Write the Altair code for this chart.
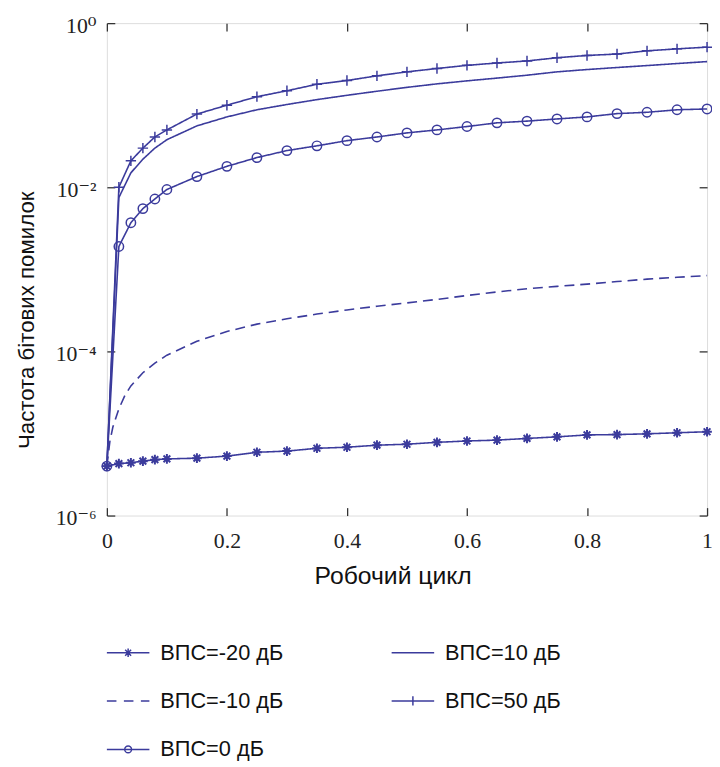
import altair as alt
import pandas as pd

# ---------------- data ----------------
duty = [0, 0.02, 0.04, 0.06, 0.08, 0.1, 0.15, 0.2, 0.25, 0.3, 0.35, 0.4, 0.45,
        0.5, 0.55, 0.6, 0.65, 0.7, 0.75, 0.8, 0.85, 0.9, 0.95, 1.0]
duty_dense = [0, 0.005, 0.01, 0.02, 0.03, 0.04, 0.06, 0.08, 0.1, 0.15, 0.2, 0.25,
              0.3, 0.35, 0.4, 0.45, 0.5, 0.55, 0.6, 0.65, 0.7, 0.75, 0.8, 0.85,
              0.9, 0.95, 1.0]

ber_m20 = [4.0e-6, 4.3e-6, 4.4e-6, 4.6e-6, 4.8e-6, 4.9e-6, 5.0e-6, 5.3e-6, 5.9e-6,
           6.1e-6, 6.6e-6, 6.8e-6, 7.2e-6, 7.4e-6, 7.8e-6, 8.1e-6, 8.3e-6, 8.7e-6,
           9.1e-6, 9.6e-6, 9.7e-6, 9.9e-6, 1.02e-5, 1.05e-5]
ber_m10 = [4.0e-6, 8.0e-6, 1.2e-5, 2.0e-5, 2.9e-5, 3.8e-5, 5.5e-5, 7.2e-5, 9.0e-5,
           1.33e-4, 1.75e-4, 2.15e-4, 2.5e-4, 2.85e-4, 3.2e-4, 3.55e-4, 3.9e-4,
           4.3e-4, 4.8e-4, 5.3e-4, 5.8e-4, 6.2e-4, 6.6e-4, 7.1e-4, 7.6e-4, 8.0e-4,
           8.4e-4]
ber_0 = [4.0e-6, 0.0019, 0.0037, 0.0055, 0.0072, 0.0094, 0.0135, 0.018, 0.023,
         0.028, 0.032, 0.037, 0.041, 0.046, 0.050, 0.055, 0.061, 0.064, 0.068,
         0.072, 0.079, 0.082, 0.088, 0.090]
ber_10 = [4.0e-6, 0.0075, 0.015, 0.022, 0.030, 0.038, 0.056, 0.072, 0.088, 0.102,
          0.117, 0.132, 0.148, 0.165, 0.182, 0.198, 0.214, 0.232, 0.255, 0.272,
          0.288, 0.304, 0.322, 0.34]
ber_50 = [4.0e-6, 0.010, 0.021, 0.030, 0.041, 0.050, 0.078, 0.10, 0.127, 0.15,
          0.18, 0.20, 0.228, 0.255, 0.28, 0.306, 0.327, 0.346, 0.379, 0.404,
          0.42, 0.46, 0.486, 0.51]

names = ["ВПС=-20 дБ", "ВПС=-10 дБ", "ВПС=0 дБ", "ВПС=10 дБ", "ВПС=50 дБ"]

x_ticks = [0, 0.2, 0.4, 0.6, 0.8, 1]
y_ticks = [1e-6, 1e-4, 1e-2, 1]
y_tick_labels = ["10⁻⁶", "10⁻⁴", "10⁻²", "10⁰"]

x_title = "Робочий цикл"
y_title = "Частота бітових помилок"

# ---------------- styling ----------------
COL = "#3b3b9c"
W, H = 607, 498
SANS = "Liberation Sans, Arial, sans-serif"
SERIF = "Liberation Serif, DejaVu Serif, serif"

series_data = [
    (names[0], duty, ber_m20),
    (names[1], duty_dense, ber_m10),
    (names[2], duty, ber_0),
    (names[3], duty, ber_10),
    (names[4], duty, ber_50),
]
rows = []
for name, xs, ys in series_data:
    for xv, yv in zip(xs, ys):
        rows.append({"series": name, "duty": xv, "ber": yv})
df = pd.DataFrame(rows)

xscale = alt.Scale(domain=[0, 1], nice=False, zero=False)
yscale = alt.Scale(type="log", domain=[1e-6, 1], nice=False)

label_expr = " : ".join(
    f"datum.value < {v * 3} ? '{lab}'" for v, lab in zip(y_ticks[:-1], y_tick_labels[:-1])
) + f" : '{y_tick_labels[-1]}'"

tick_axis_common = dict(labels=False, ticks=True, tickSize=8, tickColor="#333",
                        tickWidth=1.3, domain=False, grid=False, title=None)

dash_styles = {names[0]: [1, 0], names[1]: [10, 6], names[2]: [1, 0],
               names[3]: [1, 0], names[4]: [1, 0]}
dash_domain = names[::-1]

# main line layer with the labelled axes
lines = alt.Chart(df).mark_line(strokeWidth=1.6, color=COL).encode(
    x=alt.X("duty:Q", scale=xscale,
            axis=alt.Axis(orient="bottom", values=x_ticks, format="~g",
                          labelFont=SERIF, labelFontSize=22, labelColor="#222",
                          labelPadding=15, labelFlush=False, tickSize=0, ticks=False,
                          domain=False, grid=False, title=x_title, titleFont=SANS,
                          titleFontSize=25, titleFontWeight="normal",
                          titleColor="#111", titleX=289, titleY=69,
                          titleBaseline="alphabetic", titleAnchor="middle")),
    y=alt.Y("ber:Q", scale=yscale,
            axis=alt.Axis(orient="left", values=y_ticks, labelExpr=label_expr,
                          labelFont=SERIF, labelFontSize=22, labelColor="#222",
                          labelPadding=11, labelOffset=2, labelFlush=False,
                          tickSize=0, ticks=False,
                          domain=False, grid=False, title=y_title, titleFont=SANS,
                          titleFontSize=22.5, titleFontWeight="normal",
                          titleColor="#111", titleAngle=270, titleX=-74,
                          titleY=300, titleBaseline="alphabetic",
                          titleAlign="center")),
    detail="series:N",
    strokeDash=alt.StrokeDash("series:N",
                              scale=alt.Scale(domain=dash_domain,
                                              range=[dash_styles[n] for n in dash_domain]),
                              legend=None),
)

STAR = "M-1,0H1M0,-1V1M-0.7,-0.7L0.7,0.7M-0.7,0.7L0.7,-0.7"
PLUS = "M-1,0H1M0,-1V1"

stars = alt.Chart(df[df.series == names[0]]).mark_point(
    shape=STAR, size=95, filled=False, strokeWidth=2.0, color=COL, opacity=1
).encode(
    x=alt.X("duty:Q", scale=xscale,
            axis=alt.Axis(orient="top", offset=-H, values=x_ticks, **tick_axis_common)),
    y=alt.Y("ber:Q", scale=yscale,
            axis=alt.Axis(orient="right", offset=-W, values=y_ticks, **tick_axis_common)),
)

circles = alt.Chart(df[df.series == names[2]]).mark_point(
    shape="circle", size=90, filled=False, strokeWidth=1.5, color=COL, opacity=1
).encode(
    x=alt.X("duty:Q", scale=xscale,
            axis=alt.Axis(orient="bottom", offset=-H, values=x_ticks, **tick_axis_common)),
    y=alt.Y("ber:Q", scale=yscale,
            axis=alt.Axis(orient="left", offset=-W, values=y_ticks, **tick_axis_common)),
)

pluses = alt.Chart(df[df.series == names[4]]).mark_point(
    shape=PLUS, size=110, filled=False, strokeWidth=1.5, color=COL, opacity=1
).encode(
    x=alt.X("duty:Q", scale=xscale, axis=None),
    y=alt.Y("ber:Q", scale=yscale, axis=None),
)

# legend (Vega fills the grid column by column, like the reference)
legend_paths = [
    "M-1,0H1M-0.2,0H0.2M0,-0.2V0.2M-0.14,-0.14L0.14,0.14M-0.14,0.14L0.14,-0.14",  # -20
    "M-1,0H-0.55M-0.2,0H0.25M0.6,0H1",  # -10
    "M-1,0H1M0.16,0A0.16,0.16 0 1,1 -0.16,0A0.16,0.16 0 1,1 0.16,0",  # 0
    "M-1,0H1",  # 10
    "M-1,0H1M0,-0.22V0.22",  # 50
]
legend_df = pd.DataFrame({"entry": names})
legend_layer = alt.Chart(legend_df).mark_point(filled=False, color=COL, opacity=0).encode(
    shape=alt.Shape("entry:N",
                    scale=alt.Scale(domain=names, range=legend_paths),
                    legend=alt.Legend(title=None, orient="none", legendX=-1, legendY=614,
                                      columns=2, columnPadding=106, rowPadding=15,
                                      symbolSize=1849, symbolStrokeWidth=1.5,
                                      symbolStrokeColor=COL, symbolFillColor="transparent",
                                      symbolOpacity=1, labelFont=SANS, labelFontSize=22,
                                      labelColor="#111", labelOffset=10, padding=0)),
)

chart = alt.layer(lines, stars, circles, pluses, legend_layer).resolve_axis(
    x="independent", y="independent"
).properties(
    width=W, height=H,
    autosize=alt.AutoSizeParams(type="none"),
    padding={"left": 100, "top": 11, "right": 5, "bottom": 250},
).configure_view(stroke="#4d4d4d", strokeWidth=1.6).configure(background="white")

chart.save("out.html", embed_options={"renderer": "svg", "actions": False})
